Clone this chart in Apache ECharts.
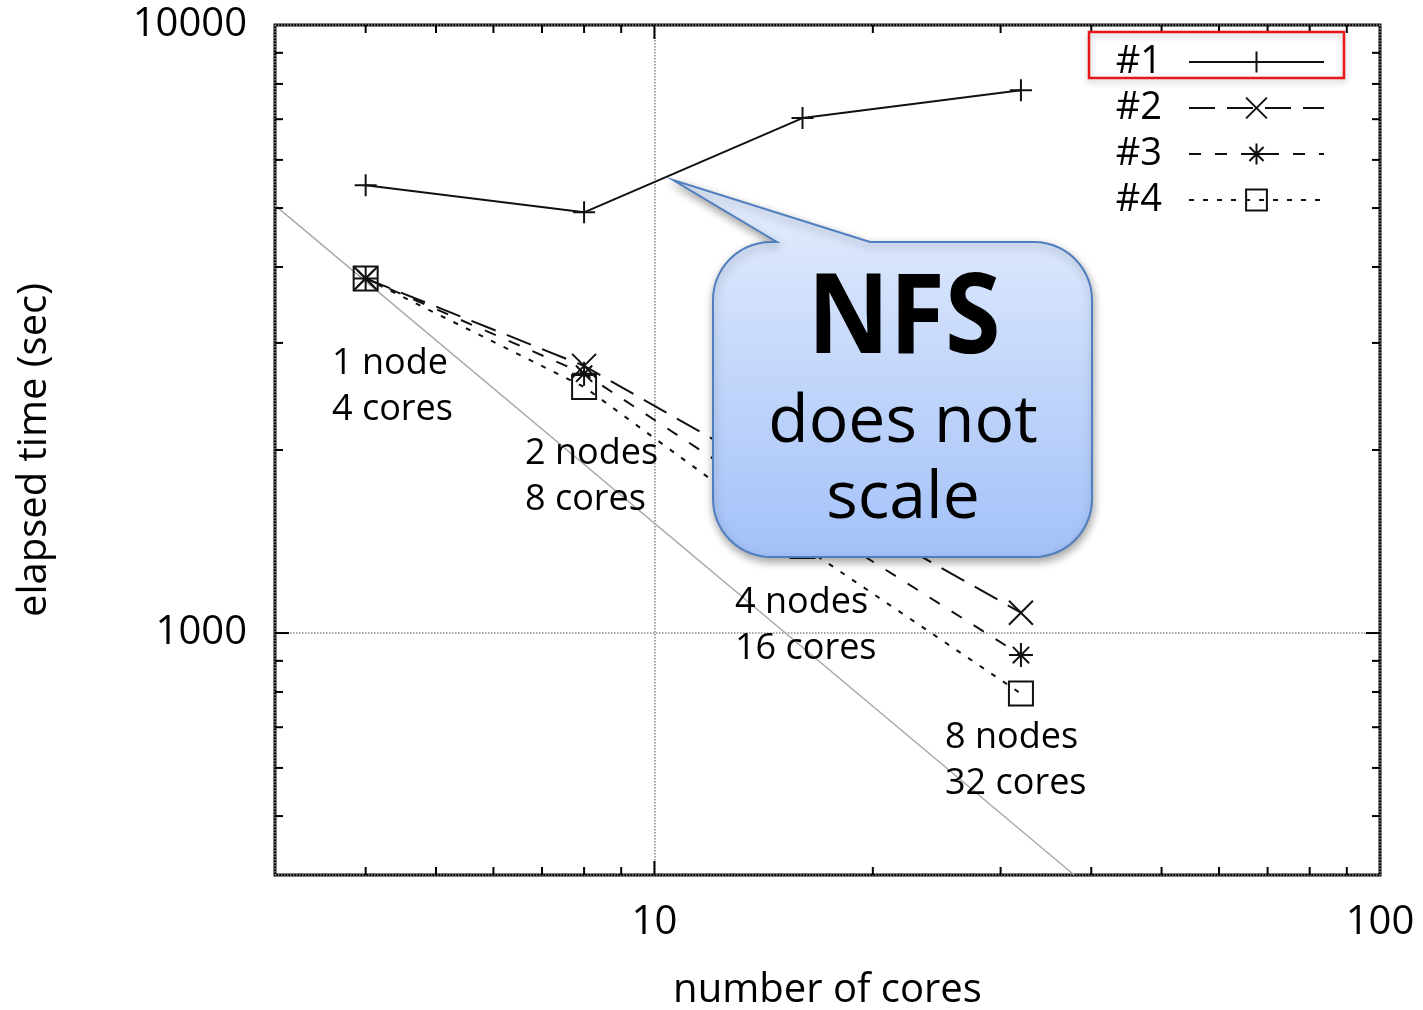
<!DOCTYPE html>
<html><head><meta charset="utf-8">
<script src="https://cdn.jsdelivr.net/npm/echarts@6/dist/echarts.min.js"></script>
<style>html,body{margin:0;padding:0;background:#fff}#c{width:1423px;height:1010px}</style>
</head><body><div id="c"></div>
<script>
// ---- data ----
const cores = [4, 8, 16, 32];
const run1 = [5450, 4920, 7030, 7810];
const run2 = [3830, 2750, 1720, 1080];
const run3 = [3830, 2670, 1550, 920];
const run4 = [3830, 2540, 1390, 795];
const seriesNames = ['#1', '#2', '#3', '#4'];
const idealX = [3, 37.9];
const idealY = [5050, 400];
const xRange = [3, 100];
const yRange = [400, 10000];
const xMajorTicks = [10];
const xMinorTicks = [4, 5, 6, 7, 8, 9, 20, 30, 40, 50, 60, 70, 80, 90];
const yMajorTicks = [1000];
const yMinorTicks = [500, 600, 700, 800, 900, 2000, 3000, 4000, 5000, 6000, 7000, 8000, 9000];
const nodeLabels = [['1 node', '4 cores'], ['2 nodes', '8 cores'], ['4 nodes', '16 cores'], ['8 nodes', '32 cores']];
const calloutText = ['NFS', 'does not', 'scale'];

// ---- styling ----
const FONT = '"Open Sans", "DejaVu Sans", sans-serif';
const INK = '#111';
const SYM = {
  plus: 'path://M5,0L5,10M0,5L10,5',
  cross: 'path://M0,0L10,10M10,0L0,10',
  star: 'path://M5,0L5,10M0,5L10,5M1.6,1.6L8.4,8.4M8.4,1.6L1.6,8.4',
  square: 'path://M0,0L10,0L10,10L0,10Z'
};

function lineSeries(name, values, symbol, dash, size) {
  return {
    name: name, type: 'line', data: cores.map((c, i) => [c, values[i]]),
    symbol: symbol, symbolSize: size, showSymbol: true, symbolKeepAspect: true,
    lineStyle: { color: INK, width: 2, type: dash },
    itemStyle: { color: 'rgba(0,0,0,0)', borderColor: INK, borderWidth: 2 },
    emphasis: { disabled: true }, z: 3, animation: false
  };
}

const chart = echarts.init(document.getElementById('c'), null, { renderer: 'canvas' });

const tickStyle = { stroke: '#000', lineWidth: 2 };

const xTickData = xMinorTicks.map(v => [v, yRange[1], 8]).concat(xMajorTicks.map(v => [v, yRange[1], 14]));
const yTickData = yMinorTicks.map(v => [xRange[1], v, 8]).concat(yMajorTicks.map(v => [xRange[1], v, 14]));

// annotation text positions (left x, baseline y of first line)
const nodeLabelPos = [[332, 374], [525, 464], [735, 613], [945, 748]];
const graphics = [];
nodeLabels.forEach((lines, i) => {
  lines.forEach((t, j) => {
    graphics.push({
      type: 'text', x: nodeLabelPos[i][0], y: nodeLabelPos[i][1] - 10 + j * 46, z: 20,
      style: { text: t, fontFamily: FONT, fontSize: 36, fill: '#000', align: 'left', verticalAlign: 'middle' }
    });
  });
});

// callout bubble outline (rounded box with a pointer)
function bubblePoints(x0, y0, x1, y1, r, tail) {
  const pts = [];
  pts.push(tail[0], tail[1], tail[2]);
  function arc(cx, cy, a0, a1) {
    const n = 14;
    for (let k = 0; k <= n; k++) {
      const a = a0 + (a1 - a0) * k / n;
      pts.push([cx + r * Math.cos(a), cy + r * Math.sin(a)]);
    }
  }
  arc(x1 - r, y0 + r, -Math.PI / 2, 0);
  arc(x1 - r, y1 - r, 0, Math.PI / 2);
  arc(x0 + r, y1 - r, Math.PI / 2, Math.PI);
  arc(x0 + r, y0 + r, Math.PI, Math.PI * 1.5);
  return pts;
}
graphics.push({
  type: 'polygon', z: 50,
  shape: { points: bubblePoints(713, 242, 1092, 557, 58, [[777, 242], [673, 180], [870, 242]]) },
  style: {
    fill: new echarts.graphic.LinearGradient(0, 0, 0, 1, [
      { offset: 0, color: '#e6eefd' }, { offset: 0.2, color: '#d8e5fc' }, { offset: 1, color: '#a3c1f8' }
    ]),
    stroke: '#4f7fbf', lineWidth: 2,
    shadowBlur: 8, shadowColor: 'rgba(0,0,0,0.35)', shadowOffsetX: 1, shadowOffsetY: 4
  }
});
graphics.push({
  type: 'text', x: 904, y: 321, z: 51, scaleX: 0.9,
  style: { text: calloutText[0], fontFamily: FONT, fontWeight: 'bold', fontSize: 112, fill: '#000', align: 'center', verticalAlign: 'middle' }
});
graphics.push({
  type: 'text', x: 903, y: 423, z: 51,
  style: { text: calloutText[1], fontFamily: FONT, fontSize: 66, fill: '#000', align: 'center', verticalAlign: 'middle' }
});
graphics.push({
  type: 'text', x: 903, y: 499, z: 51,
  style: { text: calloutText[2], fontFamily: FONT, fontSize: 66, fill: '#000', align: 'center', verticalAlign: 'middle' }
});
// red highlight box round legend entry #1
graphics.push({
  type: 'rect', z: 60,
  shape: { x: 1089, y: 32, width: 255, height: 46 },
  style: { fill: 'rgba(0,0,0,0)', stroke: '#e8151b', lineWidth: 2.5, shadowBlur: 6, shadowColor: 'rgba(0,0,0,0.25)', shadowOffsetY: 3 }
});

const option = {
  animation: false,
  backgroundColor: '#fff',
  grid: {
    left: 275, right: 43, top: 25, bottom: 135, show: true, borderColor: '#000', borderWidth: 3,
    backgroundColor: 'rgba(0,0,0,0)', outerBoundsMode: 'none', containLabel: false
  },
  legend: {
    data: seriesNames, orient: 'vertical', right: 98, top: 43, align: 'right',
    itemWidth: 135, itemHeight: 26, itemGap: 8, padding: 0, selectedMode: false,
    textStyle: { fontFamily: FONT, fontSize: 38, color: '#000', lineHeight: 38, padding: [0, 22, 0, 0] }
  },
  xAxis: {
    type: 'log', logBase: 10, min: xRange[0], max: xRange[1],
    axisLine: { show: false }, axisTick: { show: false }, minorTick: { show: false },
    axisLabel: { showMinLabel: false, fontFamily: FONT, fontSize: 40, color: '#000', margin: 28, formatter: v => String(Math.round(v)) },
    splitLine: { show: true, lineStyle: { type: 'dotted', color: '#888', width: 1.5 } },
    name: 'number of cores', nameLocation: 'middle', nameGap: 96,
    nameTextStyle: { fontFamily: FONT, fontSize: 40, color: '#000' }
  },
  yAxis: {
    type: 'log', logBase: 10, min: yRange[0], max: yRange[1],
    axisLine: { show: false }, axisTick: { show: false }, minorTick: { show: false },
    axisLabel: { showMinLabel: false, fontFamily: FONT, fontSize: 40, color: '#000', margin: 28, formatter: v => String(Math.round(v)) },
    splitLine: { show: true, lineStyle: { type: 'dotted', color: '#888', width: 1.5 } },
    name: 'elapsed time (sec)', nameLocation: 'middle', nameGap: 220,
    nameTextStyle: { fontFamily: FONT, fontSize: 40, color: '#000' }
  },
  graphic: graphics,
  series: [
    {
      name: 'ideal', type: 'line', data: idealX.map((x, i) => [x, idealY[i]]), symbol: 'none',
      lineStyle: { color: '#aaa', width: 1.5 }, z: 2, silent: true, animation: false
    },
    lineSeries(seriesNames[0], run1, SYM.plus, 'solid', 22),
    lineSeries(seriesNames[1], run2, SYM.cross, [26, 12], 24),
    lineSeries(seriesNames[2], run3, SYM.star, [12, 14], 24),
    lineSeries(seriesNames[3], run4, SYM.square, [5, 9], 24),
    {
      type: 'custom', silent: true, z: 6, data: xTickData,
      renderItem: function (params, api) {
        const cs = params.coordSys;
        const x = api.coord([api.value(0), api.value(1)])[0];
        const len = api.value(2);
        const b = cs.y + cs.height, t = cs.y;
        return { type: 'group', children: [
          { type: 'line', shape: { x1: x, y1: b, x2: x, y2: b - len }, style: tickStyle },
          { type: 'line', shape: { x1: x, y1: t, x2: x, y2: t + len }, style: tickStyle }
        ] };
      }
    },
    {
      type: 'custom', silent: true, z: 6, data: yTickData,
      renderItem: function (params, api) {
        const cs = params.coordSys;
        const y = api.coord([api.value(0), api.value(1)])[1];
        const len = api.value(2);
        const l = cs.x, r = cs.x + cs.width;
        return { type: 'group', children: [
          { type: 'line', shape: { x1: l, y1: y, x2: l + len, y2: y }, style: tickStyle },
          { type: 'line', shape: { x1: r, y1: y, x2: r - len, y2: y }, style: tickStyle }
        ] };
      }
    }
  ]
};
chart.setOption(option);
</script>
</body></html>
